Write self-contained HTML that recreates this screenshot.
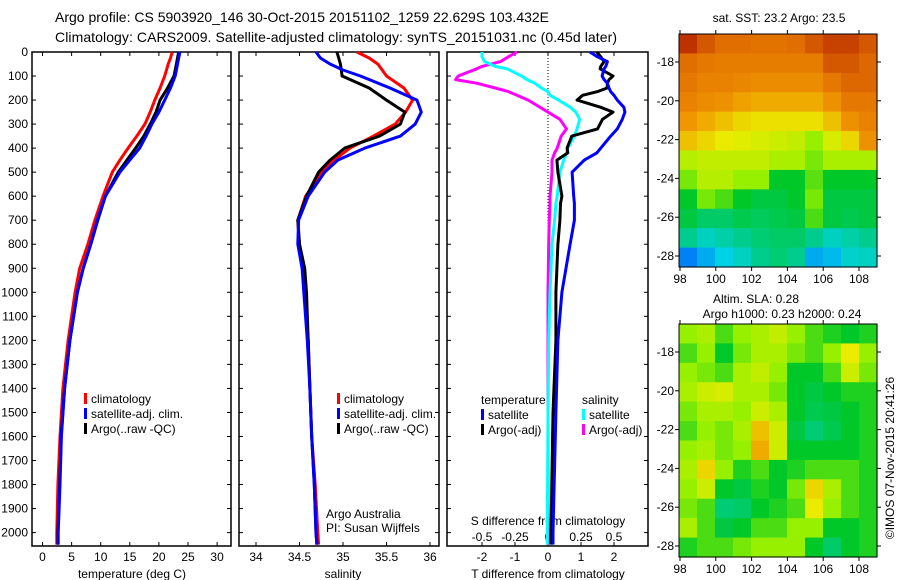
<!DOCTYPE html>
<html><head><meta charset="utf-8">
<style>
body{margin:0;background:#fff;}
svg{display:block;font-family:"Liberation Sans",sans-serif;}
text{font-size:12px;fill:#000;}
</style></head>
<body>
<svg id="chart" width="900" height="580" viewBox="0 0 900 580">
<text x="55" y="22" style="font-size:14px">Argo profile: CS 5903920_146 30-Oct-2015 20151102_1259 22.629S 103.432E</text>
<text x="55" y="42" style="font-size:14px" textLength="562">Climatology: CARS2009. Satellite-adjusted climatology: synTS_20151031.nc (0.45d later)</text>
</svg>
<script>
const depths=[0,25,50,75,100,150,200,250,300,350,400,450,500,600,700,800,900,1000,1200,1400,1600,1800,2000,2050];
const tClim=[22.3,22,21.6,21.3,21,20.2,19.3,18.5,17.6,16.2,14.7,13.3,12,10.4,9,7.8,6.4,5.6,4.4,3.5,3.0,2.65,2.45,2.45];
const tSat=[23.6,23.4,23.2,23,22.8,22,21,20,18.8,17.8,16.7,15,13.3,10.8,9.4,8.3,7,6,4.7,3.8,3.25,3.0,2.7,2.7];
const tArgo=[23.4,23.2,23.0,22.8,22.6,21.5,20.2,19.5,18.5,17.4,16,14.5,13,10.8,9.5,8.3,7,6,4.7,3.8,3.2,2.95,2.65,2.65];
const sClim=[35.16,35.3,35.4,35.45,35.5,35.7,35.8,35.72,35.6,35.35,35.08,34.9,34.76,34.57,34.48,34.5,34.54,34.56,34.6,34.62,34.64,34.68,34.71,34.72];
const sSat=[34.69,34.74,34.85,35.0,35.2,35.54,35.85,35.9,35.83,35.66,35.25,34.94,34.79,34.6,34.49,34.48,34.53,34.55,34.59,34.62,34.64,34.67,34.69,34.7];
const sArgo=[34.93,34.95,34.97,34.98,34.99,35.3,35.5,35.71,35.66,35.42,35.02,34.85,34.72,34.58,34.48,34.5,34.56,34.58,34.6,34.62,34.64,34.67,34.69,34.7];
const dDepths=[0,20,40,60,70,100,115,130,150,165,180,200,230,250,280,320,350,400,420,450,500,600,630,700,800,1000,1200,1500,2000,2050];
const dtSat=[1.27,1.5,1.8,1.75,1.7,1.64,1.7,1.8,1.85,1.9,2.0,2.1,2.3,2.33,2.25,2.1,1.9,1.6,1.48,1.1,0.73,0.78,0.8,0.8,0.67,0.42,0.3,0.24,0.15,0.15];
const dtArgo=[1.48,1.6,1.7,1.6,1.58,1.97,1.85,1.8,1.79,1.5,1.05,0.88,1.6,1.97,1.65,1.5,0.72,0.58,0.6,0.27,0.3,0.42,0.38,0.36,0.3,0.24,0.24,0.15,0.09,0.09];
const dsSat=[-0.5,-0.5,-0.48,-0.4,-0.31,-0.2,-0.16,-0.1,-0.05,0,0.015,0.08,0.17,0.21,0.24,0.22,0.2,0.15,0.14,0.12,0.09,0.07,0.06,0.05,0.03,0.015,0.005,0,-0.005,-0.005];
const dsArgo=[-0.235,-0.3,-0.36,-0.5,-0.54,-0.68,-0.7,-0.54,-0.4,-0.3,-0.235,-0.15,-0.06,0.0,0.09,0.14,0.1,0.07,0.05,0.03,0.03,0.015,0.015,0.01,0.005,0,0,0,0,0];
const tTicks=[0,5,10,15,20,25,30];
const sTicks=[34,34.5,35,35.5,36];
const dTTicks=[-2,-1,0,1,2];
const dSTicks=[-0.5,-0.25,0,0.25,0.5];
const depthTicks=[0,100,200,300,400,500,600,700,800,900,1000,1100,1200,1300,1400,1500,1600,1700,1800,1900,2000];
const lonTicks=[98,100,102,104,106,108];
const latTicks=[-18,-20,-22,-24,-26,-28];
const sstGrid=[
[0.92,0.87,0.84,0.84,0.83,0.83,0.84,0.87,0.9,0.9,0.87],
[0.84,0.82,0.81,0.81,0.81,0.81,0.81,0.81,0.87,0.87,0.85],
[0.82,0.8,0.8,0.79,0.78,0.78,0.78,0.78,0.82,0.85,0.85],
[0.8,0.78,0.77,0.75,0.74,0.74,0.74,0.74,0.77,0.82,0.82],
[0.76,0.74,0.72,0.7,0.69,0.69,0.69,0.69,0.72,0.77,0.8],
[0.72,0.7,0.68,0.67,0.66,0.65,0.64,0.6,0.66,0.7,0.77],
[0.63,0.64,0.64,0.64,0.64,0.62,0.62,0.58,0.62,0.62,0.62],
[0.58,0.63,0.63,0.6,0.6,0.5,0.5,0.56,0.5,0.5,0.5],
[0.5,0.58,0.55,0.5,0.48,0.48,0.5,0.58,0.48,0.48,0.48],
[0.48,0.45,0.45,0.47,0.46,0.47,0.48,0.55,0.48,0.47,0.48],
[0.42,0.38,0.4,0.42,0.44,0.45,0.45,0.42,0.38,0.4,0.42],
[0.25,0.3,0.35,0.38,0.42,0.44,0.42,0.3,0.32,0.37,0.38]];
const slaGrid=[
[0.6,0.62,0.55,0.6,0.62,0.64,0.6,0.55,0.52,0.5,0.52],
[0.55,0.6,0.5,0.58,0.62,0.62,0.58,0.55,0.6,0.68,0.6],
[0.6,0.58,0.55,0.62,0.64,0.6,0.5,0.5,0.55,0.65,0.58],
[0.62,0.65,0.66,0.62,0.62,0.58,0.5,0.48,0.5,0.52,0.52],
[0.58,0.62,0.62,0.6,0.65,0.62,0.5,0.47,0.48,0.5,0.52],
[0.55,0.6,0.58,0.62,0.72,0.65,0.48,0.44,0.47,0.5,0.52],
[0.6,0.62,0.58,0.6,0.74,0.65,0.5,0.5,0.5,0.5,0.52],
[0.62,0.7,0.6,0.52,0.55,0.5,0.52,0.55,0.55,0.55,0.52],
[0.6,0.65,0.5,0.48,0.52,0.5,0.58,0.7,0.62,0.55,0.52],
[0.58,0.55,0.44,0.45,0.5,0.52,0.55,0.68,0.6,0.55,0.52],
[0.62,0.55,0.48,0.5,0.55,0.55,0.6,0.6,0.5,0.5,0.52],
[0.52,0.55,0.55,0.58,0.6,0.6,0.6,0.5,0.45,0.5,0.52]];

const svg=document.getElementById('chart');
const NS='http://www.w3.org/2000/svg';
function mk(tag,attrs,parent){const e=document.createElementNS(NS,tag);for(const k in attrs)e.setAttribute(k,attrs[k]);(parent||svg).appendChild(e);return e;}
function txt(x,y,s,anchor,parent){const t=mk('text',{x:x,y:y,'text-anchor':anchor||'start'},parent);t.textContent=s;return t;}

const yD=d=>52+d*0.2403;
const xT=t=>42.5+t*5.82;
const xS=s=>256+(s-34)*87;
const xDT=t=>548+t*33;
const xDS=s=>548+s*132;
const TOP=52,BOT=546;

function panel(x0,x1,name){
  const g=mk('g',{});
  
  
  mk('rect',{x:x0,y:TOP,width:x1-x0,height:BOT-TOP,fill:'none',stroke:'#000','stroke-width':1.5},g);
  depthTicks.forEach(d=>{const y=yD(d);mk('line',{x1:x0,y1:y,x2:x0+4,y2:y,stroke:'#000'},g);mk('line',{x1:x1-4,y1:y,x2:x1,y2:y,stroke:'#000'},g);});
  return g;
}
function line(xs,ys,dep,xf,color,name){
  const pts=dep.map((d,i)=>xf(xs[i]).toFixed(1)+','+yD(d).toFixed(1)).join(' ');
  const p=mk('polyline',{points:pts,fill:'none',stroke:color,'stroke-width':3,'stroke-linejoin':'round'});
  
  
}
function xticks(g,vals,f,y,lab,fmt){vals.forEach(v=>{const x=f(v);mk('line',{x1:x,y1:BOT,x2:x,y2:BOT-4,stroke:'#000'},g);mk('line',{x1:x,y1:TOP,x2:x,y2:TOP+4,stroke:'#000'},g);if(lab)txt(x,y,fmt?fmt(v):String(v),'middle',g);});}

const p1=panel(32,231,'temperature-panel');
depthTicks.forEach(d=>{txt(28,yD(d)+4,String(d),'end',p1);});
xticks(p1,tTicks,xT,561,true);
const xl1=txt(132,578,'temperature (deg C)','middle');

line(tClim,null,depths,xT,'#f00','temp-climatology-line');
line(tArgo,null,depths,xT,'#000','temp-argo-line');
line(tSat,null,depths,xT,'#00f','temp-satellite-line');

const p2=panel(239,439,'salinity-panel');
xticks(p2,sTicks,xS,561,true);
const xl2=txt(343,578,'salinity','middle');

line(sClim,null,depths,xS,'#f00','sal-climatology-line');
line(sArgo,null,depths,xS,'#000','sal-argo-line');
line(sSat,null,depths,xS,'#00f','sal-satellite-line');
txt(326,518,'Argo Australia');txt(326,532,'PI: Susan Wijffels');

const p3=panel(447,648,'difference-panel');
dTTicks.forEach(v=>{const x=xDT(v);mk('line',{x1:x,y1:BOT,x2:x,y2:BOT-4,stroke:'#000'},p3);txt(x,561,String(v),'middle',p3);});
dSTicks.forEach(v=>{const x=xDS(v);mk('line',{x1:x,y1:TOP,x2:x,y2:TOP+4,stroke:'#000'},p3);txt(x,541,String(v),'middle',p3);});
txt(548,525,'S difference from climatology','middle',p3);
const xl3=txt(548,578,'T difference from climatology','middle');

mk('line',{x1:548,y1:TOP,x2:548,y2:270,stroke:'#000','stroke-dasharray':'1,2'});
line(dsArgo,null,dDepths,xDS,'#f0f','sal-argo-diff-line');
line(dsSat,null,dDepths,xDS,'#0ff','sal-satellite-diff-line');
line(dtArgo,null,dDepths,xDT,'#000','temp-argo-diff-line');
line(dtSat,null,dDepths,xDT,'#00f','temp-satellite-diff-line');

function legend(x,y,items,name){const g=mk('g',{});
 items.forEach((it,i)=>{if(it[0])mk('rect',{x:x,y:y+i*15-9,width:3,height:11,fill:it[0]},g);txt(x+(it[0]?7:0),y+i*15+1,it[1],'start',g);});}
legend(84,402,[['#f00','climatology'],['#00f','satellite-adj. clim.'],['#000',"Argo(..raw -QC)"]],'temperature-legend');
legend(337,402,[['#f00','climatology'],['#00f','satellite-adj. clim.'],['#000',"Argo(..raw -QC)"]],'salinity-legend');
legend(481,403,[[null,'temperature'],['#00f','satellite'],['#000','Argo(-adj)']],'t-diff-legend');
legend(582,403,[[null,'salinity'],['#0ff','satellite'],['#f0f','Argo(-adj)']],'s-diff-legend');

function jet(v){const stops=[[0,[0,0,180]],[0.2,[0,90,255]],[0.35,[0,210,230]],[0.5,[0,200,40]],[0.6,[150,240,0]],[0.68,[235,235,0]],[0.76,[240,150,0]],[0.84,[225,110,0]],[0.92,[190,50,0]],[1,[150,15,0]]];
 for(let i=1;i<stops.length;i++){if(v<=stops[i][0]){const a=stops[i-1],b=stops[i],t=(v-a[0])/(b[0]-a[0]);return 'rgb('+a[1].map((c,k)=>Math.round(c+(b[1][k]-c)*t)).join(',')+')';}}return 'rgb(150,15,0)';}

function map(grid,y0,y1,name){
 const x0=679,x1=877;
 const lonX=l=>680+(l-98)*17.9;
 const latY=la=>y0+28+(-18-la)*(y1-y0-39)/10;
 const g=mk('g',{});
 const rows=grid.length,cols=grid[0].length;
 const cw=(x1-x0)/cols,ch=(y1-y0)/rows;
 grid.forEach((row,r)=>row.forEach((v,c)=>{const cell=mk('rect',{x:(x0+c*cw).toFixed(2),y:(y0+r*ch).toFixed(2),width:(cw+0.6).toFixed(2),height:(ch+0.6).toFixed(2),fill:jet(v)},g);
   
   }));
 mk('rect',{x:x0,y:y0,width:x1-x0,height:y1-y0,fill:'none',stroke:'#000'},g);
 lonTicks.forEach(l=>{const x=lonX(l);mk('line',{x1:x,y1:y1,x2:x,y2:y1+4,stroke:'#000'},g);mk('line',{x1:x,y1:y0,x2:x,y2:y0-4,stroke:'#000'},g);txt(x,y1+16,String(l),'middle',g);});
 latTicks.forEach(la=>{const y=latY(la);mk('line',{x1:x0,y1:y,x2:x0-4,y2:y,stroke:'#000'},g);mk('line',{x1:x1,y1:y,x2:x1+4,y2:y,stroke:'#000'},g);txt(x0-5,y+4,String(la),'end',g);});
}
map(sstGrid,34,267,'sst-map');
map(slaGrid,324,557,'sla-map');
txt(779,22,'sat. SST: 23.2 Argo: 23.5','middle');
txt(756,303,'Altim. SLA: 0.28','middle');
txt(782,318,'Argo h1000: 0.23 h2000: 0.24','middle');
const cr=txt(0,0,'©IMOS 07-Nov-2015 20:41:26','middle');
cr.setAttribute('transform','translate(894,458) rotate(-90)');

</script>
</body></html>
